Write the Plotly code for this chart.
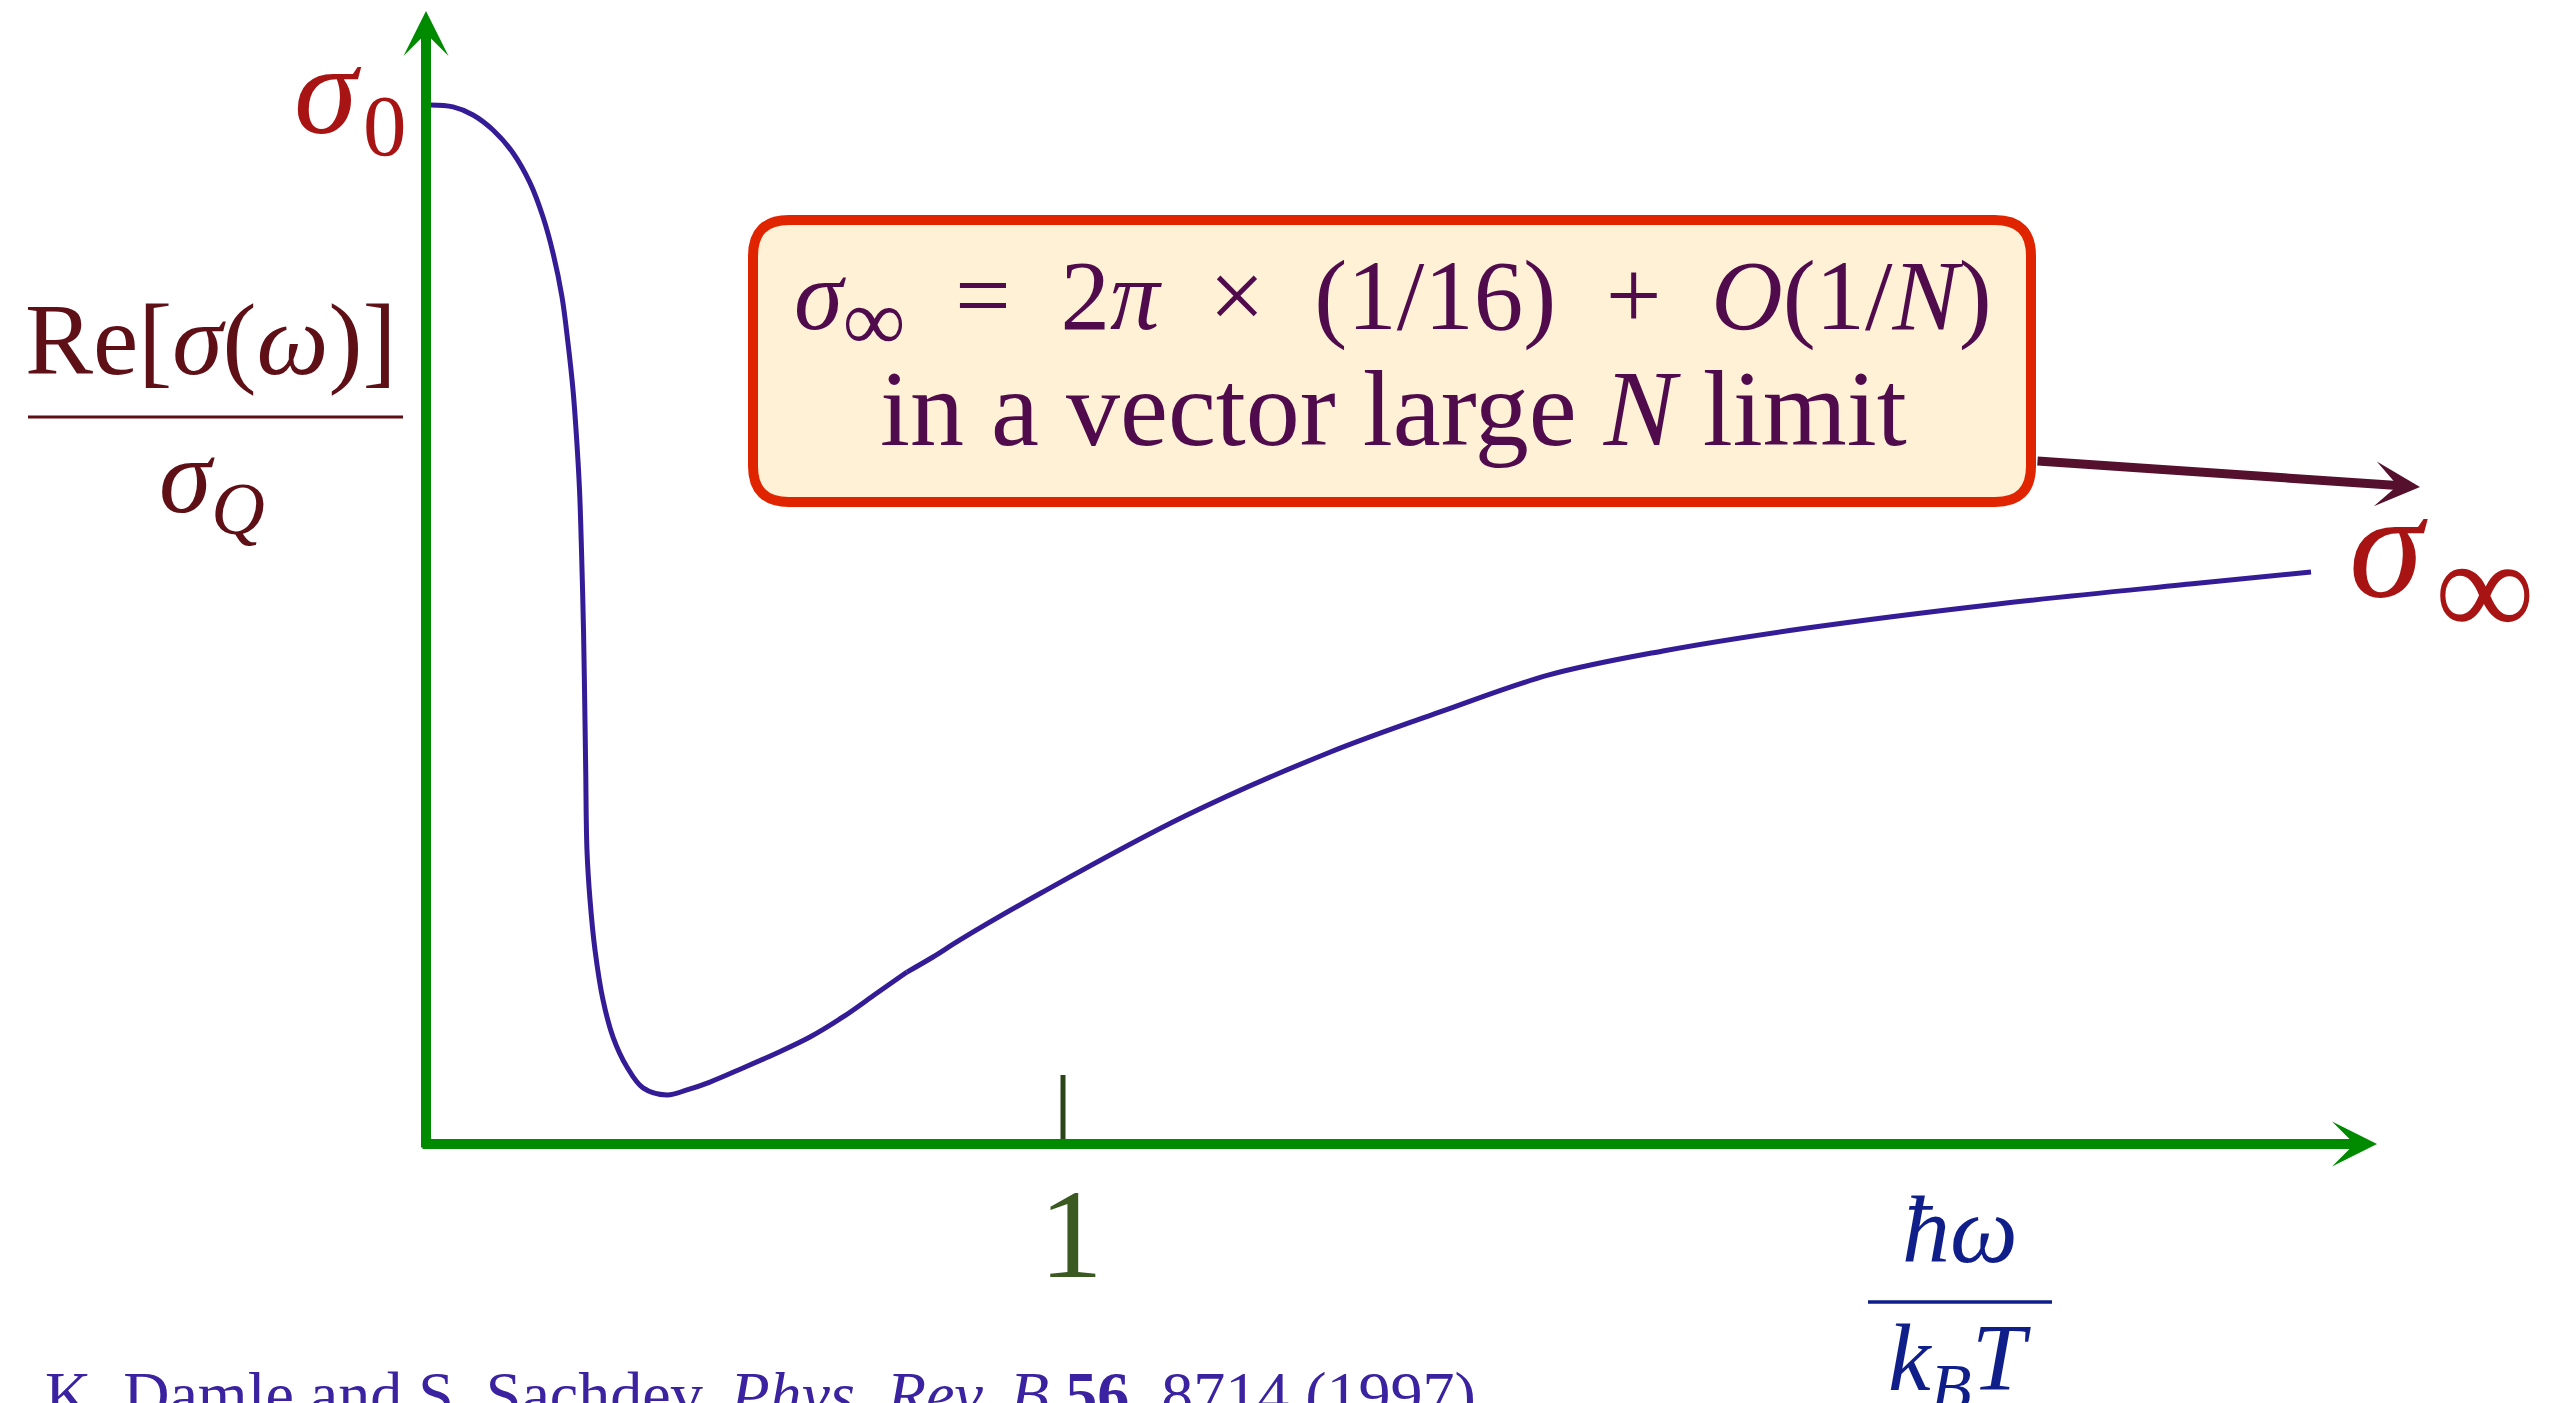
import plotly.graph_objects as go

# conductivity curve
# x = hbar*omega / (k_B T), y = Re[sigma(omega)] / sigma_Q
omega_drop = [0.0063, 0.0424, 0.0738, 0.1052, 0.1366, 0.1633, 0.1837, 0.1994, 0.2135, 0.2229,
              0.2308, 0.2363, 0.2410, 0.2441, 0.2473, 0.2491, 0.2507, 0.2527, 0.2575, 0.2653,
              0.2779, 0.2936, 0.3155, 0.3407, 0.3783, 0.4097, 0.4458, 0.4976, 0.5510, 0.6028,
              0.6546, 0.7080, 0.7551]
sigma_drop = [0.7245, 0.7232, 0.7176, 0.7071, 0.6911, 0.6702, 0.6464, 0.6213, 0.5907, 0.5586,
              0.5258, 0.4930, 0.4561, 0.4142, 0.3577, 0.3096, 0.2615, 0.2050, 0.1702, 0.1353,
              0.1004, 0.0746, 0.0537, 0.0391, 0.0342, 0.0377, 0.0432, 0.0530, 0.0635, 0.0746,
              0.0886, 0.1053, 0.1199]
omega_tail = [0.7551, 0.7959, 0.8383, 0.9655, 1.1915, 1.4160, 1.5965, 1.7630, 1.9419, 2.1680,
              2.4678, 2.7692, 2.9592]
sigma_tail = [0.1199, 0.1304, 0.1423, 0.1750, 0.2287, 0.2727, 0.3020, 0.3271, 0.3438, 0.3598,
              0.3766, 0.3905, 0.3989]

tick_values = [1]
tick_labels = ["1"]

W, H = 2560, 1403
X0_PX, Y0_PX = 426, 1144      # origin on the page
PX_PER_X, PX_PER_Y = 637, 1434

SERIF = "Liberation Serif"
GREEN = "#008a00"
CURVE = "#341c96"
TICK = "#2b4519"
ONE = "#3b5a22"
RED = "#a81414"
MAROON = "#5f0f16"
BOX_EDGE = "#e12400"
BOX_FILL = "#fff1d6"
BOX_TEXT = "#500b4d"
ARROW = "#55102d"
NAVY = "#101e8a"
CITE = "#3a22a0"


def fx(px):
    return (px - X0_PX) / PX_PER_X


def fy(py):
    return (Y0_PX - py) / PX_PER_Y


def label(px, py, text, size, color, anchor="center"):
    return dict(x=fx(px), y=fy(py), xref="x", yref="y", text=text, showarrow=False,
                font=dict(family=SERIF, size=size, color=color),
                xanchor=anchor, yanchor="middle")


def arrow(tail, tip, color, width, size):
    return dict(x=fx(tip[0]), y=fy(tip[1]), ax=fx(tail[0]), ay=fy(tail[1]),
                xref="x", yref="y", axref="x", ayref="y", text="", showarrow=True,
                arrowhead=3, arrowsize=size, arrowwidth=width, arrowcolor=color)


def rounded_box(left, top, right, bottom, r):
    x0, x1 = fx(left), fx(right)
    y0, y1 = fy(bottom), fy(top)
    rx, ry = r / PX_PER_X, r / PX_PER_Y
    return (f"M {x0 + rx},{y1} L {x1 - rx},{y1} Q {x1},{y1} {x1},{y1 - ry} "
            f"L {x1},{y0 + ry} Q {x1},{y0} {x1 - rx},{y0} "
            f"L {x0 + rx},{y0} Q {x0},{y0} {x0},{y0 + ry} "
            f"L {x0},{y1 - ry} Q {x0},{y1} {x0 + rx},{y1} Z")


fig = go.Figure()
for xs, ys in [(omega_drop, sigma_drop), (omega_tail, sigma_tail)]:
    fig.add_trace(go.Scatter(x=xs, y=ys, mode="lines", hoverinfo="skip",
                             line=dict(color=CURVE, width=5, shape="spline", smoothing=1.0)))

shapes = [
    # tick mark at 1
    dict(type="line", xref="x", yref="y", x0=tick_values[0], x1=tick_values[0],
         y0=0, y1=fy(1075), line=dict(color=TICK, width=5)),
    # fraction bars
    dict(type="line", xref="x", yref="y", x0=fx(28), x1=fx(403), y0=fy(417), y1=fy(417),
         line=dict(color=MAROON, width=3)),
    dict(type="line", xref="x", yref="y", x0=fx(1868), x1=fx(2052), y0=fy(1302), y1=fy(1302),
         line=dict(color=NAVY, width=3.5)),
    # annotation box
    dict(type="path", xref="x", yref="y", path=rounded_box(753, 220, 2031, 502, 36),
         fillcolor=BOX_FILL, line=dict(color=BOX_EDGE, width=10)),
]

sp = "\u2002"
line1 = (f"<i>σ</i><sub><span style='font-size:88px'>∞</span></sub>{sp}={sp}2<i>π</i>{sp}×{sp}"
         f"(1/16){sp}+{sp}<i>O</i>(1/<i>N</i>)")

annotations = [
    # axes
    arrow((421, Y0_PX), (2377, Y0_PX), GREEN, 10, 0.75),
    arrow((X0_PX, 1149), (X0_PX, 11), GREEN, 10, 0.75),
    # pointer from the box
    arrow((2036, 461), (2420, 487), ARROW, 9, 0.83),
    # tick label
    label(1071, 1234, tick_labels[0], 128, ONE),
    # sigma_0
    label(328, 90, "<i>σ</i>", 128, RED),
    label(385, 125, "0", 87, RED),
    # sigma_infinity
    label(2388, 546, "<i>σ</i>", 150, RED),
    label(2485, 588, "∞", 140, RED),
    # y label
    label(211, 339, "Re[<i>σ</i>(<i>ω</i>)]", 102, MAROON),
    label(212, 484, "<i>σ</i><sub><i>Q</i></sub>", 106, MAROON),
    # x label
    label(1960, 1229, "<i>ħω</i>", 96, NAVY),
    label(1960, 1364, "<i>k</i><sub><i>B</i></sub><i>T</i>", 96, NAVY),
    # box text
    label(1393, 305, line1, 99, BOX_TEXT),
    label(1393, 408, "in a vector large <i>N</i> limit", 108, BOX_TEXT),
    # reference
    label(43, 1394, "K. Damle and S. Sachdev, <i>Phys. Rev. B</i> <b>56</b>, 8714 (1997).",
          64, CITE, anchor="left"),
]

fig.update_layout(
    width=W, height=H, autosize=False,
    margin=dict(l=0, r=0, t=0, b=0),
    paper_bgcolor="white", plot_bgcolor="white",
    showlegend=False,
    xaxis=dict(range=[fx(0), fx(W)], visible=False, fixedrange=True),
    yaxis=dict(range=[fy(H), fy(0)], visible=False, fixedrange=True),
    shapes=shapes,
    annotations=annotations,
)

fig.write_html("out.html", config={"displayModeBar": False},
               post_script="document.body.style.margin='0';document.body.style.overflow='hidden';")
